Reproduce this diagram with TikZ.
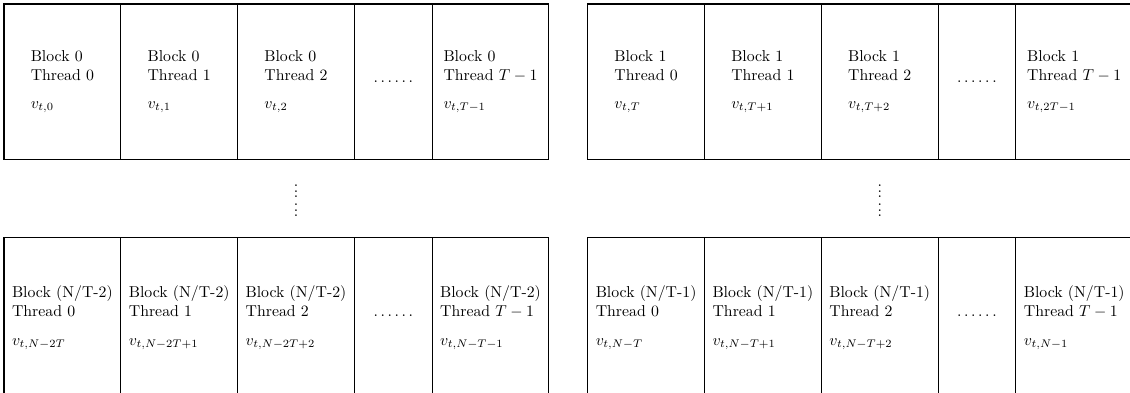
\documentclass[tikz,border=0pt]{standalone}
\newcommand\sixvdots{\vbox{\baselineskip3.5pt\lineskiplimit0pt\hbox{.}\hbox{.}\hbox{.}\kern1.5pt\hbox{.}\hbox{.}\hbox{.}}}
\newcommand\lowstrut{\rule[-2.9pt]{0pt}{0pt}}
\tikzset{
  cell/.style={draw, line width=0.7pt, minimum width={116.8*0.633pt}, minimum height={155.3*0.633pt}, align=left, inner sep=0pt},
  dotcell/.style={cell, minimum width={77.7*0.633pt}},
  lowcell/.style={cell, minimum height={160*0.633pt}},
  lowdotcell/.style={dotcell, minimum height={160*0.633pt}},
  vdotsnode/.style={inner sep=0pt}
}
\begin{document}
\begin{tikzpicture}[x=0.633pt, y=-0.633pt]
\useasboundingbox (0,0) rectangle (1130,392);
\clip (0,0) rectangle (1130,392);
% top row, group 1
\node[cell] (a0) at (62.4,81.65) {Block 0\\Thread 0\\[6pt]$v_{t,0}$};
\node[cell] (a1) at (179.2,81.65) {Block 0\\Thread 1\\[6pt]$v_{t,1}$};
\node[cell] (a2) at (296.0,81.65) {Block 0\\Thread 2\\[6pt]$v_{t,2}$};
\node[dotcell] (a3) at (393.25,81.65) {$\ldots\ldots$};
\node[cell] (a4) at (490.5,81.65) {Block 0\\Thread $T-1$\\[6pt]$v_{t,T-1}$};
% top row, group 2
\node[cell] (b0) at (646.1,81.65) {Block 1\\Thread 0\\[6pt]$v_{t,T}$};
\node[cell] (b1) at (762.9,81.65) {Block 1\\Thread 1\\[6pt]$v_{t,T+1}$};
\node[cell] (b2) at (879.7,81.65) {Block 1\\Thread 2\\[6pt]$v_{t,T+2}$};
\node[dotcell] (b3) at (976.95,81.65) {$\ldots\ldots$};
\node[cell] (b4) at (1074.2,81.65) {Block 1\\Thread $T-1$\\[6pt]$v_{t,2T-1}$};
% vertical dots
\node[vdotsnode] (va) at (296,201) {\sixvdots};
\node[vdotsnode] (vb) at (879.7,201) {\sixvdots};
% bottom row, group 1 (its lower edge lies below the picture's edge)
\node[lowcell] (c0) at (62.4,317.7) {Block (N/T-2)\\Thread 0\\[6pt]$v_{t,N-2T}$\lowstrut};
\node[lowcell] (c1) at (179.2,317.7) {Block (N/T-2)\\Thread 1\\[6pt]$v_{t,N-2T+1}$\lowstrut};
\node[lowcell] (c2) at (296.0,317.7) {Block (N/T-2)\\Thread 2\\[6pt]$v_{t,N-2T+2}$\lowstrut};
\node[lowdotcell] (c3) at (393.25,317.7) {$\ldots\ldots$\lowstrut};
\node[lowcell] (c4) at (490.5,317.7) {Block (N/T-2)\\Thread $T-1$\\[6pt]$v_{t,N-T-1}$\lowstrut};
% bottom row, group 2
\node[lowcell] (d0) at (646.1,317.7) {Block (N/T-1)\\Thread 0\\[6pt]$v_{t,N-T}$\lowstrut};
\node[lowcell] (d1) at (762.9,317.7) {Block (N/T-1)\\Thread 1\\[6pt]$v_{t,N-T+1}$\lowstrut};
\node[lowcell] (d2) at (879.7,317.7) {Block (N/T-1)\\Thread 2\\[6pt]$v_{t,N-T+2}$\lowstrut};
\node[lowdotcell] (d3) at (976.95,317.7) {$\ldots\ldots$\lowstrut};
\node[lowcell] (d4) at (1074.2,317.7) {Block (N/T-1)\\Thread $T-1$\\[6pt]$v_{t,N-1}$\lowstrut};
\end{tikzpicture}
\end{document}
